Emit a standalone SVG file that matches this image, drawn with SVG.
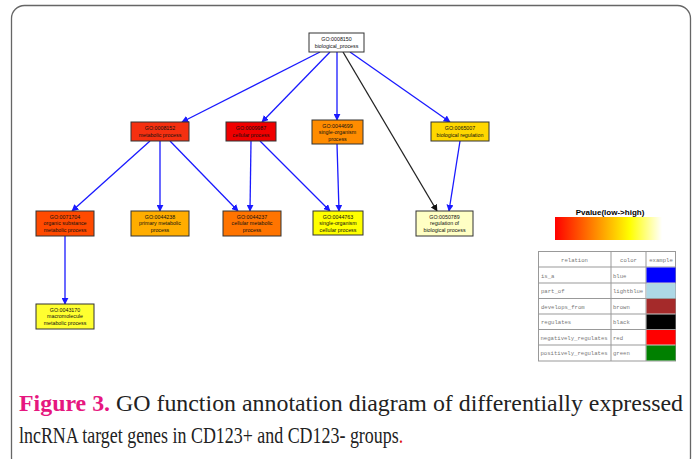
<svg xmlns="http://www.w3.org/2000/svg" width="698" height="459" viewBox="0 0 698 459">
<defs>
<marker id="ab" viewBox="0 0 10 10" refX="9" refY="5" markerWidth="7" markerHeight="7" orient="auto" markerUnits="userSpaceOnUse"><path d="M0,0 L10,5 L0,10 z" fill="#1a1aff"/></marker>
<marker id="ak" viewBox="0 0 10 10" refX="9" refY="5" markerWidth="7" markerHeight="7" orient="auto" markerUnits="userSpaceOnUse"><path d="M0,0 L10,5 L0,10 z" fill="#111"/></marker>
<linearGradient id="pg" x1="0" x2="1" y1="0" y2="0">
<stop offset="0" stop-color="#ff0000"/>
<stop offset="0.7" stop-color="#ffff00"/>
<stop offset="1" stop-color="#ffffff"/>
</linearGradient>
<style>
.n rect{stroke:#333;stroke-width:1}
.n text{font-family:"Liberation Sans",Arial,sans-serif;font-size:5.3px;fill:#111;text-anchor:middle}
.e{fill:none;stroke-width:1.3}
.b{stroke:#1a1aff;marker-end:url(#ab)}
.k{stroke:#222;marker-end:url(#ak)}
.t{font-family:"Liberation Mono",monospace;font-size:5.6px;fill:#777}
.tl{stroke:#999;stroke-width:1;fill:none}
.cap{font-family:"Liberation Serif","Times New Roman",serif;font-size:23px;fill:#222}
</style>
</defs>
<rect x="0" y="0" width="698" height="459" fill="#fff"/>
<rect x="11.5" y="5.5" width="679" height="465" rx="13" fill="none" stroke="#666" stroke-width="1.3"/>

<g id="connectors">
<path class="e b" d="M320,52 L182,122"/>
<path class="e b" d="M330,52 L262,122"/>
<path class="e b" d="M337,52 L337,120"/>
<path class="e k" d="M343,52 L437,211"/>
<path class="e b" d="M350,52 L450,122"/>
<path class="e b" d="M460,141 L449,211"/>
<path class="e b" d="M150,141 L72,211"/>
<path class="e b" d="M160,141 L160,211"/>
<path class="e b" d="M170,141 L238,211"/>
<path class="e b" d="M251,141 L250,211"/>
<path class="e b" d="M260,141 L330,211"/>
<path class="e b" d="M337,144 L339,211"/>
<path class="e b" d="M65,236 L65,304"/>
</g>

<g id="GO0008150" class="n"><rect x="309" y="33" width="55" height="19" fill="#fff"/><text x="336.5" y="41">GO:0008150</text><text x="336.5" y="48">biological_process</text></g>
<g id="GO0008152" class="n"><rect x="131" y="122" width="58" height="19" fill="#f53010"/><text x="160" y="130">GO:0008152</text><text x="160" y="137">metabolic process</text></g>
<g id="GO0009987" class="n"><rect x="226" y="122" width="50" height="19" fill="#f00000"/><text x="251" y="130">GO:0009987</text><text x="251" y="137">cellular process</text></g>
<g id="GO0044699" class="n"><rect x="312" y="120" width="51" height="24" fill="#ff8c00"/><text x="337.5" y="127.5">GO:0044699</text><text x="337.5" y="134">single-organism</text><text x="337.5" y="140.5">process</text></g>
<g id="GO0065007" class="n"><rect x="431" y="122" width="58" height="19" fill="#ffd700"/><text x="460" y="130">GO:0065007</text><text x="460" y="137">biological regulation</text></g>
<g id="GO0071704" class="n"><rect x="36" y="211" width="58" height="25" fill="#ff4a00"/><text x="65" y="218.5">GO:0071704</text><text x="65" y="225">organic substance</text><text x="65" y="231.5">metabolic process</text></g>
<g id="GO0044238" class="n"><rect x="131" y="211" width="58" height="25" fill="#ffad00"/><text x="160" y="218.5">GO:0044238</text><text x="160" y="225">primary metabolic</text><text x="160" y="231.5">process</text></g>
<g id="GO0044237" class="n"><rect x="223" y="211" width="58" height="25" fill="#ff7400"/><text x="252" y="218.5">GO:0044237</text><text x="252" y="225">cellular metabolic</text><text x="252" y="231.5">process</text></g>
<g id="GO0044763" class="n"><rect x="313" y="211" width="50" height="24" fill="#ffff00"/><text x="338" y="218.5">GO:0044763</text><text x="338" y="225">single-organism</text><text x="338" y="231.5">cellular process</text></g>
<g id="GO0050789" class="n"><rect x="416" y="211" width="57" height="25" fill="#ffffc4"/><text x="444.5" y="218.5">GO:0050789</text><text x="444.5" y="225">regulation of</text><text x="444.5" y="231.5">biological process</text></g>
<g id="GO0043170" class="n"><rect x="36" y="304" width="58" height="25" fill="#ffff30"/><text x="65" y="311.5">GO:0043170</text><text x="65" y="318">macromolecule</text><text x="65" y="324.5">metabolic process</text></g>

<g id="legend">
<text x="610" y="214.5" font-family="Liberation Sans,Arial,sans-serif" font-size="8" font-weight="bold" text-anchor="middle" fill="#000">Pvalue(low-&gt;high)</text>
<rect x="555" y="217" width="107" height="23" fill="url(#pg)"/>
<rect x="538.5" y="251.5" width="137" height="109.5" fill="#fff" class="tl"/>
<path class="tl" d="M611,251.5V361 M646,251.5V361 M538.5,267H675.5 M538.5,283H675.5 M538.5,298.5H675.5 M538.5,314H675.5 M538.5,329.5H675.5 M538.5,345H675.5"/>
<text class="t" x="574.5" y="262" text-anchor="middle">relation</text>
<text class="t" x="628.5" y="262" text-anchor="middle">color</text>
<text class="t" x="661" y="262" text-anchor="middle" font-size="5.2">example</text>
<text class="t" x="541" y="277.5">is_a</text><text class="t" x="613" y="277.5">blue</text>
<text class="t" x="541" y="293">part_of</text><text class="t" x="613" y="293" font-size="5.2">lightblue</text>
<text class="t" x="541" y="308.5">develops_from</text><text class="t" x="613" y="308.5">brown</text>
<text class="t" x="541" y="324">regulates</text><text class="t" x="613" y="324">black</text>
<text class="t" x="540.5" y="339.5">negatively_regulates</text><text class="t" x="613" y="339.5">red</text>
<text class="t" x="540.5" y="355">positively_regulates</text><text class="t" x="613" y="355">green</text>
<rect x="646.5" y="267.5" width="29" height="15" fill="#0000ff"/>
<rect x="646.5" y="283.5" width="29" height="14.5" fill="#add8e6"/>
<rect x="646.5" y="299" width="29" height="14.5" fill="#a52a2a"/>
<rect x="646.5" y="314.5" width="29" height="14.5" fill="#000000"/>
<rect x="646.5" y="330" width="29" height="14.5" fill="#ff0000"/>
<rect x="646.5" y="345.5" width="29" height="15" fill="#008000"/>
</g>

<g id="caption">
<text class="cap" x="19" y="411" textLength="664" lengthAdjust="spacingAndGlyphs"><tspan font-weight="bold" fill="#e6177f">Figure 3.</tspan> GO function annotation diagram of differentially expressed</text>
<text class="cap" transform="translate(19,443) scale(0.78,1)" x="0" y="0">lncRNA target genes in CD123+ and CD123- groups<tspan fill="#e01010">.</tspan></text>
</g>
</svg>
